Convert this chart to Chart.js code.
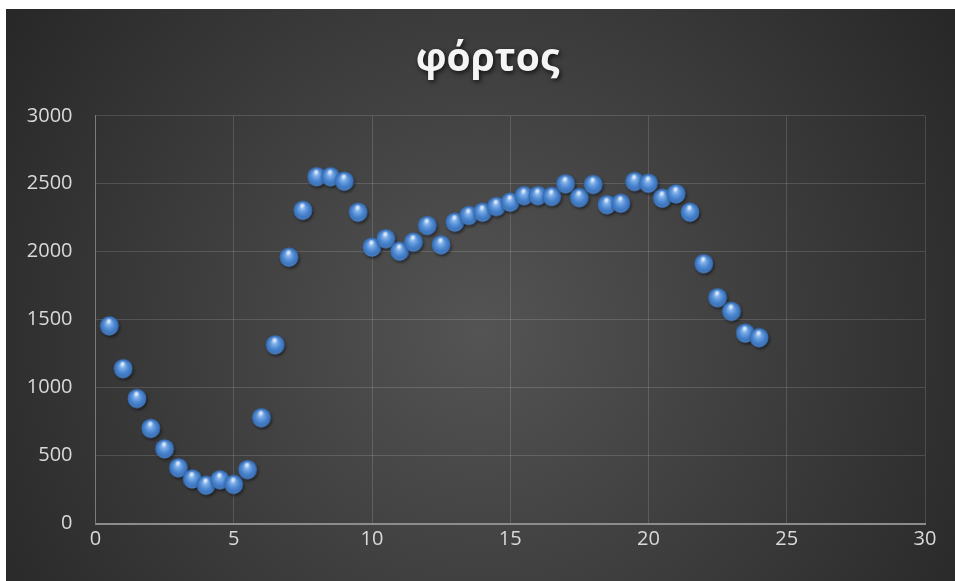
<!DOCTYPE html>
<html>
<head>
<meta charset="utf-8">
<script src="https://cdn.jsdelivr.net/npm/chart.js@4/dist/chart.umd.min.js"></script>
<style>
  html, body { margin: 0; padding: 0; background: #ffffff; }
  #wrap { position: absolute; left: 6px; top: 9px; width: 949px; height: 572px; }
</style>
</head>
<body>
<div id="wrap"><canvas id="chart" width="949" height="572"></canvas></div>
<script>
// Hour of day (x) and load (y)
const hours = [0.5, 1, 1.5, 2, 2.5, 3, 3.5, 4, 4.5, 5, 5.5, 6, 6.5, 7, 7.5, 8, 8.5, 9, 9.5, 10,
  10.5, 11, 11.5, 12, 12.5, 13, 13.5, 14, 14.5, 15, 15.5, 16, 16.5, 17, 17.5, 18, 18.5, 19, 19.5, 20,
  20.5, 21, 21.5, 22, 22.5, 23, 23.5, 24];
const loadValues = [1455, 1140, 920, 700, 550, 410, 328, 282, 322, 288, 397, 779, 1315, 1960, 2305, 2552, 2552, 2519, 2291, 2034,
  2096, 2004, 2071, 2193, 2051, 2218, 2267, 2291, 2333, 2365, 2413, 2413, 2407, 2500, 2398, 2495, 2346, 2357, 2517, 2504,
  2394, 2426, 2291, 1912, 1662, 1561, 1401, 1368];
const chartTitle = 'φόρτος';
const xTicks = { min: 0, max: 30, step: 5 };
const yTicks = { min: 0, max: 3000, step: 500 };

// Glossy blue sphere used as the marker
function makeSphere() {
  const size = 28, c = size / 2, r = 9.4;
  const cv = document.createElement('canvas');
  cv.width = size; cv.height = size;
  const g = cv.getContext('2d');
  // soft drop shadow
  g.save();
  g.shadowColor = 'rgba(0,0,0,0.55)';
  g.shadowBlur = 3;
  g.shadowOffsetX = 1.2;
  g.shadowOffsetY = 1.8;
  g.beginPath(); g.arc(c, c, r, 0, Math.PI * 2);
  g.fillStyle = '#3a6fb3';
  g.fill();
  g.restore();
  // body
  const body = g.createRadialGradient(c - 1, c - 3.5, 0.5, c, c, r);
  body.addColorStop(0, '#bcd8f8');
  body.addColorStop(0.25, '#78aae6');
  body.addColorStop(0.6, '#4b86d0');
  body.addColorStop(0.9, '#3b71b8');
  body.addColorStop(1, '#2f5f9f');
  g.beginPath(); g.arc(c, c, r, 0, Math.PI * 2);
  g.fillStyle = body; g.fill();
  // bottom rim
  const rim = g.createLinearGradient(0, c + 3, 0, c + r);
  rim.addColorStop(0, 'rgba(120,170,230,0)');
  rim.addColorStop(1, 'rgba(130,180,235,0.35)');
  g.beginPath(); g.arc(c, c, r - 0.6, 0.15 * Math.PI, 0.85 * Math.PI);
  g.strokeStyle = rim; g.lineWidth = 1.2; g.stroke();
  // highlight
  const hl = g.createRadialGradient(c - 0.5, c - 5, 0, c - 0.5, c - 5, 3.2);
  hl.addColorStop(0, 'rgba(255,255,255,0.85)');
  hl.addColorStop(1, 'rgba(255,255,255,0)');
  g.beginPath(); g.ellipse(c - 0.5, c - 5, 3.6, 2.4, 0, 0, Math.PI * 2);
  g.fillStyle = hl; g.fill();
  return cv;
}

const backdrop = {
  id: 'backdrop',
  beforeDraw(chart) {
    const { ctx, width, height } = chart;
    ctx.save();
    const grad = ctx.createRadialGradient(width * 0.5, height * 0.56, 0, width * 0.5, height * 0.56, width * 0.62);
    grad.addColorStop(0, '#545454');
    grad.addColorStop(1, '#262626');
    ctx.fillStyle = grad;
    ctx.fillRect(0, 0, width, height);
    ctx.restore();
  }
};

const points = hours.map((h, i) => ({ x: h, y: loadValues[i] }));
const tickFont = { family: '"Open Sans", sans-serif', size: 20 };

const chart = new Chart(document.getElementById('chart'), {
  type: 'scatter',
  data: {
    datasets: [{
      label: chartTitle,
      data: points,
      pointStyle: makeSphere(),
      pointRadius: 10,
      pointHoverRadius: 10
    }]
  },
  plugins: [backdrop],
  options: {
    responsive: false,
    animation: false,
    events: [],
    layout: { padding: { left: 0, right: 30, top: 0, bottom: 0 } },
    plugins: {
      legend: { display: false },
      tooltip: { enabled: false },
      title: {
        display: true,
        text: chartTitle,
        color: '#f5f5f5',
        font: { family: '"Open Sans", sans-serif', size: 39, weight: 'bold', lineHeight: 1.2 },
        padding: { top: 27, bottom: 33 }
      }
    },
    scales: {
      x: {
        type: 'linear',
        min: xTicks.min, max: xTicks.max,
        ticks: { stepSize: xTicks.step, color: '#d9d9d9', font: tickFont, padding: 4 },
        grid: { color: 'rgba(255,255,255,0.14)', lineWidth: 1, drawTicks: false },
        border: { color: '#8c8c8c', width: 2 },
        afterFit(scale) { scale.height = 57.5; }
      },
      y: {
        type: 'linear',
        min: yTicks.min, max: yTicks.max,
        ticks: {
          stepSize: yTicks.step, color: '#d9d9d9', font: tickFont, padding: 23,
          callback: (v) => String(v)
        },
        grid: { color: 'rgba(255,255,255,0.14)', lineWidth: 1, drawTicks: false },
        border: { color: '#7a7a7a', width: 1 },
        afterFit(scale) { scale.width = 89.5; }
      }
    }
  }
});

// Title: centred on the whole card and given a soft drop shadow
const titleBox = chart.titleBlock;
if (titleBox) {
  const drawTitle = titleBox.draw.bind(titleBox);
  titleBox.draw = function (area) {
    const ctx = chart.ctx;
    const shift = (chart.width / 2 + 7) - (titleBox.left + titleBox.right) / 2;
    ctx.save();
    ctx.translate(shift, 0);
    ctx.shadowColor = 'rgba(0,0,0,0.75)';
    ctx.shadowBlur = 5;
    ctx.shadowOffsetX = 1.5;
    ctx.shadowOffsetY = 2.5;
    drawTitle(area);
    ctx.restore();
  };
  chart.draw();
}
</script>
</body>
</html>
